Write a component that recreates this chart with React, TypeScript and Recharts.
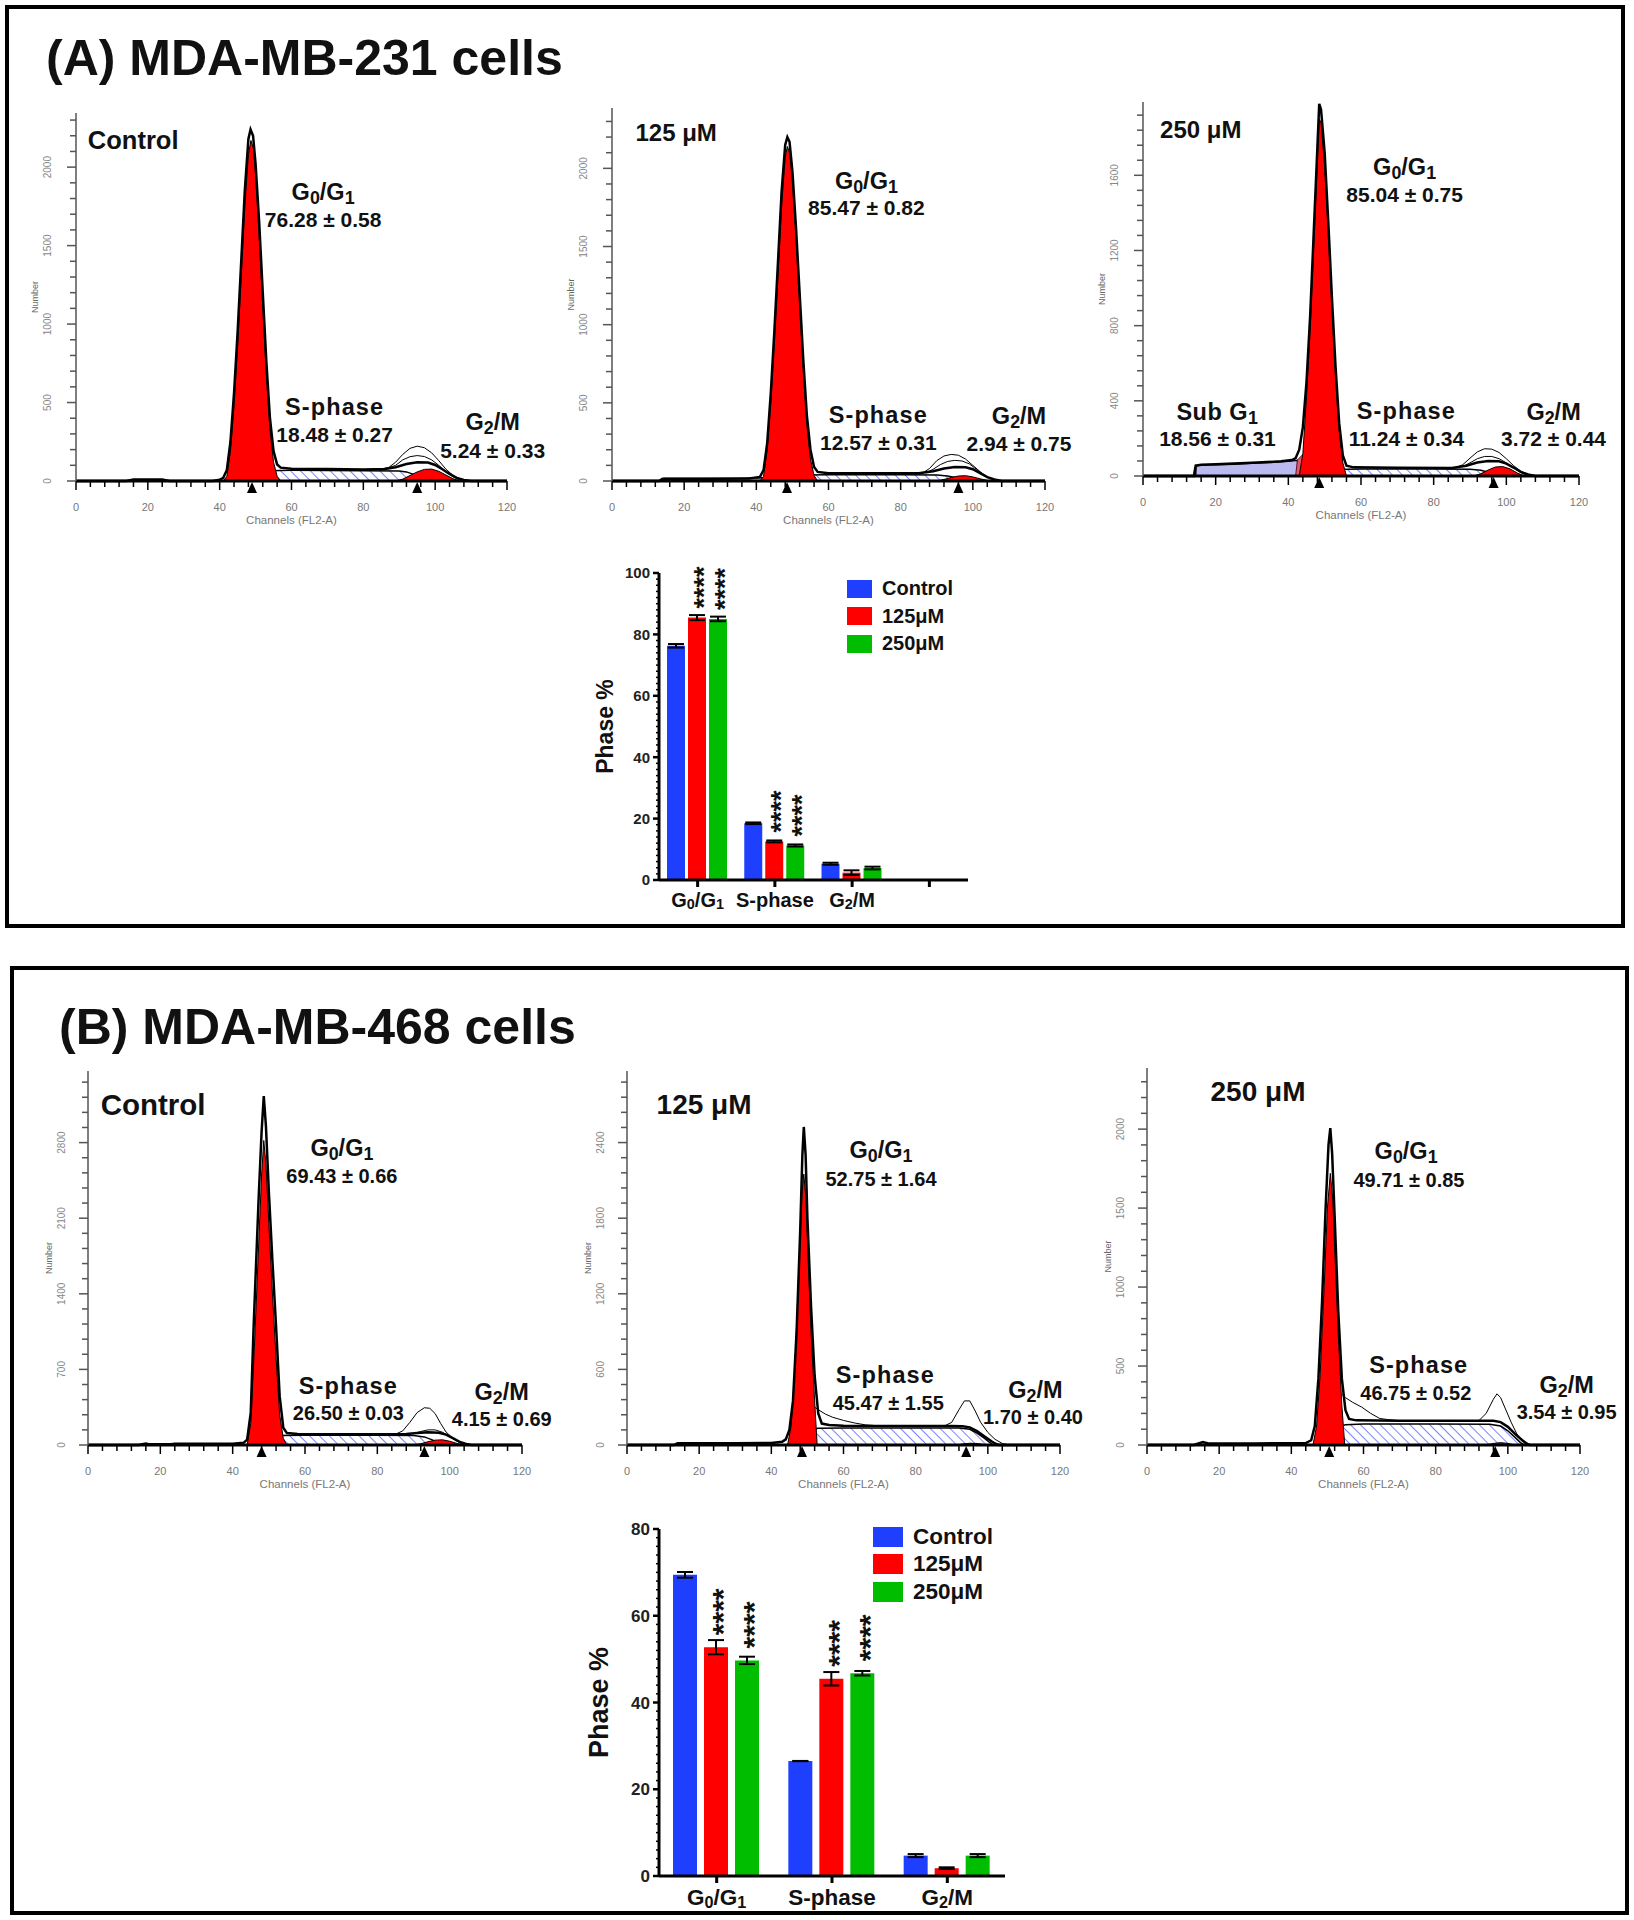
import React from "react";
import {
  ComposedChart,
  Area,
  Line,
  Scatter,
  XAxis,
  YAxis,
  ReferenceDot,
  BarChart,
  Bar,
  ErrorBar,
  LabelList,
  Legend,
} from "recharts";

type Pt = [number, number];

const FONT = "'Liberation Sans', Arial, Helvetica, sans-serif";
const BLUE = "#1f3fff";
const RED = "#ff0000";
const GREEN = "#00bd00";

// (A) MDA-MB-231 — DNA histograms as [channel, count]
const acTotal: Pt[] = [[0,0],[14,0],[16,10],[24,10],[26,0],[38,0],[40,8],[41,20],[42,70],[43,250],[44,560],[45,950],[46,1400],[47,1850],[48,2180],[48.6,2240],[49.3,2200],[50,2020],[51,1650],[52,1200],[53,760],[54,400],[55,190],[56,105],[57,85],[60,78],[70,76],[80,74],[86,76],[89,88],[92,108],[95,120],[98,118],[100,102],[102,75],[104,45],[106,20],[108,6],[110,0],[120,0]];
const acG1: Pt[] = [[41,0],[42,30],[43,190],[44,480],[45,860],[46,1300],[47,1750],[48,2080],[48.7,2170],[49.4,2120],[50,1950],[51,1560],[52,1110],[53,680],[54,330],[55,120],[56,30],[57,0]];
const acS: Pt[] = [[46,0],[48,22],[50,45],[52,60],[54,66],[60,68],[80,66],[90,64],[92,58],[94,42],[96,22],[98,8],[100,0]];
const acG2: Pt[] = [[89,0],[91,12],[93,35],[95,58],[97,74],[99,76],[101,62],[103,38],[105,14],[107,0]];
const acRawHi: Pt[] = [[84,74],[87,85],[89,120],[91,170],[93,208],[95,222],[97,212],[99,180],[101,130],[103,75],[105,35],[107,12],[109,0]];
const acRawLo: Pt[] = [[86,76],[89,100],[91,135],[93,155],[95,162],[97,156],[99,135],[101,100],[103,60],[105,25],[108,0]];
const acMarks: Pt[] = [[49,0],[95,0]];

const a1Total: Pt[] = [[0,0],[13,0],[14,14],[30,14],[38,16],[41,26],[42,70],[43,240],[44,560],[45,960],[46,1400],[47,1850],[48,2150],[48.6,2200],[49.2,2170],[50,1980],[51,1620],[52,1200],[53,780],[54,420],[55,200],[56,90],[57,58],[60,50],[70,50],[85,50],[89,62],[92,80],[95,90],[98,88],[100,75],[102,50],[104,25],[106,10],[108,0],[120,0]];
const a1G1: Pt[] = [[41,0],[42,30],[43,200],[44,500],[45,890],[46,1320],[47,1760],[48,2070],[48.6,2140],[49.2,2100],[50,1920],[51,1560],[52,1140],[53,720],[54,360],[55,140],[56,35],[57,0]];
const a1S: Pt[] = [[46,0],[48,18],[50,32],[53,38],[60,40],[80,40],[90,38],[93,32],[95,22],[97,10],[99,0]];
const a1G2: Pt[] = [[90,0],[92,10],[94,22],[96,32],[98,34],[100,26],[102,14],[104,4],[105,0]];
const a1Sub: Pt[] = [[14,0],[14.5,16],[25,16],[35,18],[43,22],[44,0]];
const a1Pink: Pt[] = [[43,0],[44.5,35],[46,48],[47.5,35],[49,0]];
const a1RawHi: Pt[] = [[86,50],[88,80],[90,130],[92,160],[94,170],[96,165],[98,140],[100,100],[102,60],[104,25],[106,8],[108,0]];
const a1RawLo: Pt[] = [[87,52],[89,75],[91,105],[93,125],[95,132],[97,128],[99,110],[101,75],[103,40],[105,15],[107,0]];
const a1Marks: Pt[] = [[48.5,0],[96,0]];

const a2Total: Pt[] = [[0,0],[14,0],[14.5,55],[16,60],[20,62],[30,70],[38,78],[41,85],[42,95],[43,140],[44,260],[45,500],[46,850],[47,1300],[48,1750],[48.5,1980],[49,1950],[50,1720],[51,1350],[52,950],[53,580],[54,280],[55,110],[56,55],[58,46],[70,44],[85,42],[89,55],[92,72],[95,80],[98,78],[100,66],[102,45],[104,22],[106,8],[108,0],[120,0]];
const a2G1: Pt[] = [[43,0],[44,120],[45,420],[46,780],[47,1230],[48,1680],[48.5,1900],[49,1880],[50,1650],[51,1290],[52,900],[53,530],[54,240],[55,70],[56,0]];
const a2Sub: Pt[] = [[14.5,0],[14.6,55],[16,58],[20,60],[25,62],[30,68],[35,72],[40,78],[42.5,84],[43,0]];
const a2Pink: Pt[] = [[42,0],[42.5,85],[44,115],[46,130],[48,115],[50,70],[52,20],[53,0]];
const a2S: Pt[] = [[47,0],[49,15],[51,28],[53,35],[60,37],[80,37],[90,36],[93,30],[95,20],[97,8],[99,0]];
const a2G2: Pt[] = [[91,0],[93,12],[95,32],[97,48],[99,50],[101,38],[103,16],[105,0]];
const a2RawHi: Pt[] = [[86,44],[88,60],[90,95],[92,128],[94,145],[96,143],[98,125],[100,92],[102,55],[104,25],[106,8],[108,0]];
const a2RawLo: Pt[] = [[88,50],[90,70],[92,92],[94,104],[96,104],[98,92],[100,70],[102,42],[104,18],[106,0]];
const a2Marks: Pt[] = [[48.5,0],[96.5,0]];

// (B) MDA-MB-468
const bcTotal: Pt[] = [[0,0],[14,0],[15,8],[16,14],[17,6],[23,6],[24,12],[40,12],[43,20],[44,50],[45,300],[45.8,1100],[46.5,1700],[47.2,2300],[48,2900],[48.6,3230],[49.2,2950],[50,2350],[51,1700],[52,1100],[53,450],[54,160],[55,110],[58,102],[70,100],[85,100],[88,102],[91,110],[94,118],[97,114],[99,96],[101,62],[103,25],[105,6],[106,0],[120,0]];
const bcG1: Pt[] = [[44,0],[45,200],[46,900],[47,1700],[48,2500],[48.6,2820],[49.2,2600],[50,2050],[51,1400],[52,800],[53,280],[54,60],[55,0]];
const bcS: Pt[] = [[47,0],[49,40],[51,75],[53,88],[60,90],[80,90],[90,88],[93,75],[95,50],[97,22],[99,5],[100,0]];
const bcG2: Pt[] = [[90,0],[92,12],[94,30],[96,45],[98,48],[100,35],[102,15],[104,0]];
const bcRawHi: Pt[] = [[85,100],[87,130],[89,210],[91,300],[93,345],[94.5,340],[96,290],[97.5,200],[99,120],[101,60],[103,25],[105,5],[106,0]];
const bcRawLo: Pt[] = [[90,105],[92,125],[94,140],[96,140],[98,118],[100,80],[102,35],[104,8],[105,0]];
const bcMarks: Pt[] = [[48,0],[93,0]];

const b1Total: Pt[] = [[0,0],[13,0],[14,14],[30,14],[40,16],[43,25],[44,45],[45,120],[46,350],[47,900],[48,1700],[48.6,2300],[49,2524],[49.5,2300],[50,1800],[51,1100],[52,550],[53,250],[54,170],[56,158],[60,152],[80,150],[90,150],[93,148],[95,140],[97,110],[99,70],[101,30],[102,12],[103,0],[120,0]];
const b1G1: Pt[] = [[44.5,0],[45.5,150],[46.5,600],[47.5,1300],[48.5,2000],[49,2150],[49.6,1950],[50.3,1400],[51,900],[52,350],[52.7,0]];
const b1S: Pt[] = [[47,0],[48.5,60],[50,105],[51.5,125],[53,133],[60,135],[80,135],[92,134],[95,125],[97,95],[99,55],[100.5,20],[101.5,0]];
const b1G2: Pt[] = [[91,0],[93,8],[95,14],[97,12],[99,4],[100,0]];
const b1Raw: Pt[] = [[52,300],[53,280],[55,245],[57,220],[60,195],[63,175],[66,160],[70,152],[88,152],[90,180],[92,280],[93.5,350],[95,350],[96.5,270],[98,180],[100,100],[102,45],[104,12],[106,0]];
const b1Marks: Pt[] = [[48.5,0],[94,0]];

const b2Total: Pt[] = [[0,0],[13,0],[14,8],[15.5,18],[17,10],[30,10],[44,12],[45.5,30],[46.5,120],[47.5,420],[48.5,900],[49.5,1500],[50.3,1900],[50.8,2006],[51.3,1850],[52,1450],[53,850],[54,420],[55,220],[56,165],[58,156],[70,154],[90,154],[96,154],[98,145],[100,115],[102,70],[104,30],[105,12],[106,0],[120,0]];
const b2G1: Pt[] = [[46,0],[47,120],[48,450],[49,950],[50,1500],[50.8,1720],[51.5,1550],[52,1250],[53,700],[54,250],[54.8,0]];
const b2S: Pt[] = [[49,0],[50.5,45],[52,90],[53.5,118],[55,128],[60,133],[80,133],[95,132],[98,120],[100,90],[102,48],[103.5,15],[104.5,0]];
const b2G2: Pt[] = [[94,0],[96,10],[98,15],[100,10],[102,0]];
const b2Raw: Pt[] = [[54,320],[55,300],[57,270],[59.5,240],[62,200],[64.5,168],[67,160],[70,154],[92,155],[94,200],[96,290],[97,324],[98,300],[99.5,220],[101,140],[102.5,70],[104,25],[106,5],[107,0]];
const b2Marks: Pt[] = [[50.5,0],[96.5,0]];

// phase distribution bar charts (% of cells, mean and SEM)
const phaseCats = ["G_0/G_1", "S-phase", "G_2/M"];
const seriesNames = ["Control", "125μM", "250μM"];
const aCtrlPct = [76.28, 18.48, 5.3];
const aCtrlSem = [0.58, 0.27, 0.33];
const a125Pct = [85.47, 12.57, 2.4];
const a125Sem = [0.82, 0.31, 0.75];
const a250Pct = [85.04, 11.24, 3.9];
const a250Sem = [0.75, 0.34, 0.44];
const aSig125 = ["****", "****", ""];
const aSig250 = ["****", "****", ""];

const bCtrlPct = [69.43, 26.5, 4.7];
const bCtrlSem = [0.66, 0.03, 0.35];
const b125Pct = [52.75, 45.47, 1.8];
const b125Sem = [1.64, 1.55, 0.2];
const b250Pct = [49.71, 46.75, 4.7];
const b250Sem = [0.85, 0.52, 0.35];
const bSig125 = ["****", "****", ""];
const bSig250 = ["****", "****", ""];

const X_TICKS = Array.from({ length: 31 }, (_, i) => i * 4);
const pts = (a: Pt[]) => a.map(([ch, n]) => ({ ch, n }));

// "G_0" -> G with subscript 0
function rich(text: string, size: number, shift = 0.17, scale = 0.76) {
  const parts = text.split(/(_.)/).filter((s) => s.length > 0);
  let down = false;
  return parts.map((part, i) => {
    if (part[0] === "_") {
      const el = (
        <tspan key={i} dy={down ? 0 : size * shift} fontSize={size * scale}>
          {part.slice(1)}
        </tspan>
      );
      down = true;
      return el;
    }
    const el = (
      <tspan key={i} dy={down ? -size * shift : 0}>
        {part}
      </tspan>
    );
    down = false;
    return el;
  });
}

type Note = { ch: number; n: number; text: string; size: number; anchor?: "start" | "middle"; ls?: number };

type Hist = {
  id: string;
  left: number;
  right: number;
  top: number;
  bottom: number;
  max: number;
  step: number;
  labelOff: number;
  total: Pt[];
  g1: Pt[];
  s: Pt[];
  g2: Pt[];
  raw: Pt[][];
  sub?: Pt[];
  pink?: Pt[];
  marks: Pt[];
  notes: Note[];
};

const HISTS: Hist[] = [
  {
    id: "ac", left: 76, right: 507, top: 113, bottom: 481, max: 2345, step: 500, labelOff: 29,
    total: acTotal, g1: acG1, s: acS, g2: acG2, raw: [acRawHi, acRawLo], marks: acMarks,
    notes: [
      { ch: 3.3, n: 2116, text: "Control", size: 25.5, anchor: "start" },
      { ch: 68.8, n: 1791, text: "G_0/G_1", size: 23.5 },
      { ch: 68.8, n: 1619, text: "76.28 ± 0.58", size: 21 },
      { ch: 72, n: 421, text: "S-phase", size: 23.5, ls: 1.1 },
      { ch: 72, n: 249, text: "18.48 ± 0.27", size: 21 },
      { ch: 116, n: 325, text: "G_2/M", size: 23.5 },
      { ch: 116, n: 147, text: "5.24 ± 0.33", size: 21 },
    ],
  },
  {
    id: "a1", left: 612, right: 1045, top: 108, bottom: 481, max: 2386, step: 500, labelOff: 29,
    total: a1Total, g1: a1G1, s: a1S, g2: a1G2, raw: [a1RawHi, a1RawLo], sub: a1Sub, pink: a1Pink, marks: a1Marks,
    notes: [
      { ch: 6.5, n: 2175, text: "125 μM", size: 24, anchor: "start" },
      { ch: 70.5, n: 1870, text: "G_0/G_1", size: 23.5 },
      { ch: 70.5, n: 1700, text: "85.47 ± 0.82", size: 21 },
      { ch: 73.8, n: 371, text: "S-phase", size: 23.5, ls: 1.1 },
      { ch: 73.8, n: 198, text: "12.57 ± 0.31", size: 21 },
      { ch: 112.8, n: 362, text: "G_2/M", size: 23.5 },
      { ch: 112.8, n: 192, text: "2.94 ± 0.75", size: 21 },
    ],
  },
  {
    id: "a2", left: 1143, right: 1579, top: 102, bottom: 476, max: 1990, step: 400, labelOff: 29,
    total: a2Total, g1: a2G1, s: a2S, g2: a2G2, raw: [a2RawHi, a2RawLo], sub: a2Sub, pink: a2Pink, marks: a2Marks,
    notes: [
      { ch: 4.7, n: 1800, text: "250 μM", size: 24, anchor: "start" },
      { ch: 72, n: 1600, text: "G_0/G_1", size: 23.5 },
      { ch: 72, n: 1457, text: "85.04 ± 0.75", size: 21 },
      { ch: 20.5, n: 300, text: "Sub G_1", size: 23.5, ls: 0.5 },
      { ch: 20.5, n: 158, text: "18.56 ± 0.31", size: 21 },
      { ch: 72.5, n: 305, text: "S-phase", size: 23.5, ls: 1.1 },
      { ch: 72.5, n: 160, text: "11.24 ± 0.34", size: 21 },
      { ch: 113, n: 300, text: "G_2/M", size: 23.5 },
      { ch: 113, n: 158, text: "3.72 ± 0.44", size: 21 },
    ],
  },
  {
    id: "bc", left: 88, right: 522, top: 1071, bottom: 1445, max: 3463, step: 700, labelOff: 27,
    total: bcTotal, g1: bcG1, s: bcS, g2: bcG2, raw: [bcRawHi, bcRawLo], marks: bcMarks,
    notes: [
      { ch: 3.5, n: 3060, text: "Control", size: 29.5, anchor: "start" },
      { ch: 70.2, n: 2676, text: "G_0/G_1", size: 23.5 },
      { ch: 70.2, n: 2426, text: "69.43 ± 0.66", size: 20 },
      { ch: 72, n: 475, text: "S-phase", size: 23.5, ls: 1.1 },
      { ch: 72, n: 228, text: "26.50 ± 0.03", size: 20 },
      { ch: 114.4, n: 420, text: "G_2/M", size: 23.5 },
      { ch: 114.4, n: 178, text: "4.15 ± 0.69", size: 20 },
    ],
  },
  {
    id: "b1", left: 627, right: 1060, top: 1071, bottom: 1445, max: 2968, step: 600, labelOff: 27,
    total: b1Total, g1: b1G1, s: b1S, g2: b1G2, raw: [b1Raw], marks: b1Marks,
    notes: [
      { ch: 8.2, n: 2627, text: "125 μM", size: 28, anchor: "start" },
      { ch: 70.4, n: 2275, text: "G_0/G_1", size: 23.5 },
      { ch: 70.4, n: 2056, text: "52.75 ± 1.64", size: 20 },
      { ch: 71.6, n: 492, text: "S-phase", size: 23.5, ls: 1.1 },
      { ch: 72.4, n: 280, text: "45.47 ± 1.55", size: 20 },
      { ch: 113.2, n: 372, text: "G_2/M", size: 23.5 },
      { ch: 112.5, n: 165, text: "1.70 ± 0.40", size: 20 },
    ],
  },
  {
    id: "b2", left: 1147, right: 1580, top: 1068, bottom: 1445, max: 2387, step: 500, labelOff: 27,
    total: b2Total, g1: b2G1, s: b2S, g2: b2G2, raw: [b2Raw], marks: b2Marks,
    notes: [
      { ch: 17.6, n: 2176, text: "250 μM", size: 28, anchor: "start" },
      { ch: 71.8, n: 1812, text: "G_0/G_1", size: 23.5 },
      { ch: 72.6, n: 1633, text: "49.71 ± 0.85", size: 20 },
      { ch: 75.3, n: 455, text: "S-phase", size: 23.5, ls: 1.1 },
      { ch: 74.5, n: 283, text: "46.75 ± 0.52", size: 20 },
      { ch: 116.3, n: 330, text: "G_2/M", size: 23.5 },
      { ch: 116.3, n: 165, text: "3.54 ± 0.95", size: 20 },
    ],
  },
];

const YW = 50;
const XH = 50;

const histXTick = (p: any) => {
  const v = p.payload.value;
  const major = v % 20 === 0;
  return (
    <g>
      <line x1={p.x} x2={p.x} y1={p.y} y2={p.y + (major ? 9 : 6)} stroke="#000" strokeWidth={1.5} />
      {major && (
        <text x={p.x} y={p.y + 30} textAnchor="middle" fontSize={11} fill="#777" fontFamily={FONT}>
          {v}
        </text>
      )}
    </g>
  );
};

const histYTick = (step: number, off: number) => (p: any) => {
  const v = p.payload.value;
  const major = v % step === 0;
  return (
    <g>
      <line x1={p.x} x2={p.x - (major ? 9 : 6)} y1={p.y} y2={p.y} stroke="#555" strokeWidth={1.5} />
      {major && (
        <text
          transform={`translate(${p.x - off},${p.y}) rotate(-90)`}
          textAnchor="middle"
          dominantBaseline="central"
          fontSize={10}
          fill="#888"
          fontFamily={FONT}
        >
          {v}
        </text>
      )}
    </g>
  );
};

const markShape = (p: any) => <path d={`M${p.cx},${p.cy + 1} l5,11 l-10,0 z`} fill="#000" />;

function Histogram({ h }: { h: Hist }) {
  const pw = h.right - h.left;
  const ph = h.bottom - h.top;
  const yTicks: number[] = [];
  for (let v = 0; v <= h.max; v += h.step / 5) yTicks.push(v);
  const hatch = `hatch-${h.id}`;

  return (
    <div style={{ position: "absolute", left: h.left - YW, top: h.top - 5 }}>
      <ComposedChart width={YW + pw + 5} height={ph + 5 + XH} margin={{ top: 5, right: 5, bottom: 0, left: 0 }}>
        <defs>
          <pattern id={hatch} width={7} height={7} patternUnits="userSpaceOnUse" patternTransform="rotate(-45)">
            <rect width={7} height={7} fill="#fff" />
            <line x1={0} y1={0} x2={0} y2={7} stroke="#3040ff" strokeWidth={1.3} />
          </pattern>
        </defs>
        <XAxis
          type="number"
          dataKey="ch"
          domain={[0, 120]}
          ticks={X_TICKS}
          interval={0}
          height={XH}
          tickSize={0}
          tickMargin={0}
          tickLine={false}
          axisLine={{ stroke: "#000", strokeWidth: 3 }}
          tick={histXTick}
          label={(p: any) => (
            <text
              x={p.viewBox.x + p.viewBox.width / 2}
              y={p.viewBox.y + 43}
              textAnchor="middle"
              fontSize={11.5}
              fill="#777"
              fontFamily={FONT}
            >
              Channels (FL2-A)
            </text>
          )}
        />
        <YAxis
          type="number"
          dataKey="n"
          domain={[0, h.max]}
          ticks={yTicks}
          interval={0}
          width={YW}
          tickSize={0}
          tickMargin={0}
          tickLine={false}
          axisLine={{ stroke: "#555", strokeWidth: 1.5 }}
          tick={histYTick(h.step, h.labelOff)}
          label={(p: any) => (
            <text
              transform={`translate(${p.viewBox.x + p.viewBox.width - h.labelOff - 12},${p.viewBox.y + p.viewBox.height / 2}) rotate(-90)`}
              textAnchor="middle"
              dominantBaseline="central"
              fontSize={9}
              fill="#666"
              fontFamily={FONT}
            >
              Number
            </text>
          )}
        />
        {h.sub && (
          <Area data={pts(h.sub)} dataKey="n" fill="#babaf0" fillOpacity={1} stroke="#000" strokeWidth={1.5} isAnimationActive={false} />
        )}
        <Area data={pts(h.s)} dataKey="n" fill={`url(#${hatch})`} fillOpacity={1} stroke="#000" strokeWidth={1.5} isAnimationActive={false} />
        <Area data={pts(h.g2)} dataKey="n" fill={RED} fillOpacity={1} stroke="#000" strokeWidth={1} isAnimationActive={false} />
        {h.pink && (
          <Area data={pts(h.pink)} dataKey="n" fill="#e0566e" fillOpacity={1} stroke="#6a1020" strokeWidth={1} isAnimationActive={false} />
        )}
        <Area data={pts(h.g1)} dataKey="n" fill={RED} fillOpacity={1} stroke="#000" strokeWidth={1} isAnimationActive={false} />
        {h.raw.map((r, i) => (
          <Line key={i} data={pts(r)} dataKey="n" stroke="#000" strokeWidth={1} dot={false} isAnimationActive={false} />
        ))}
        <Line data={pts(h.total)} dataKey="n" stroke="#000" strokeWidth={2.5} dot={false} isAnimationActive={false} />
        <Scatter data={pts(h.marks)} shape={markShape} isAnimationActive={false} />
        {h.notes.map((a, i) => (
          <ReferenceDot
            key={`note-${i}`}
            x={a.ch}
            y={a.n}
            r={0}
            ifOverflow="visible"
            shape={(p: any) => (
              <text
                x={p.cx}
                y={p.cy}
                textAnchor={a.anchor ?? "middle"}
                fontFamily={FONT}
                fontWeight="bold"
                fontSize={a.size}
                letterSpacing={a.ls ?? 0}
                fill="#111"
              >
                {rich(a.text, a.size)}
              </text>
            )}
          />
        ))}
      </ComposedChart>
    </div>
  );
}

type BarSpec = {
  left: number;
  top: number;
  right: number;
  bottom: number;
  max: number;
  rows: any[];
  tickFs: number;
  catFs: number;
  catDy: number;
  titleFs: number;
  titleOff: number;
  starFs: number;
  starGap: number;
  catGap: number;
  barGap: number;
  legend: { left: number; top: number; w: number; h: number; fs: number; row: number };
};

const buildRows = (
  cats: string[],
  ctrl: number[], ctrlSem: number[],
  t125: number[], t125Sem: number[],
  t250: number[], t250Sem: number[],
  s125: string[], s250: string[],
) =>
  cats.map((cat, i) => ({
    cat,
    ctrl: ctrl[i] ?? null,
    ctrlErr: ctrlSem[i] ?? null,
    t125: t125[i] ?? null,
    t125Err: t125Sem[i] ?? null,
    t250: t250[i] ?? null,
    t250Err: t250Sem[i] ?? null,
    s125: s125[i] ?? "",
    s250: s250[i] ?? "",
  }));

const BAR_A: BarSpec = {
  left: 659, top: 573, right: 968, bottom: 880, max: 100,
  rows: buildRows([...phaseCats, ""], aCtrlPct, aCtrlSem, a125Pct, a125Sem, a250Pct, a250Sem, aSig125, aSig250),
  tickFs: 15, catFs: 20, catDy: 27, titleFs: 23, titleOff: 54, starFs: 27, starGap: 9,
  catGap: 8, barGap: 3,
  legend: { left: 268, top: 42, w: 25, h: 18, fs: 20, row: 27.5 },
};

const BAR_B: BarSpec = {
  left: 659, top: 1529, right: 1005, bottom: 1876, max: 80,
  rows: buildRows(phaseCats, bCtrlPct, bCtrlSem, b125Pct, b125Sem, b250Pct, b250Sem, bSig125, bSig250),
  tickFs: 17, catFs: 22.5, catDy: 29, titleFs: 27, titleOff: 60, starFs: 30, starGap: 12,
  catGap: 14, barGap: 7,
  legend: { left: 294, top: 34, w: 30, h: 20, fs: 22.5, row: 27.5 },
};

function PhaseBars({ s }: { s: BarSpec }) {
  const YB = 80;
  const TOPM = 40;
  const XB = 45;
  const yTicks: number[] = [];
  for (let v = 0; v <= s.max; v += 2) yTicks.push(v);

  const stars = (p: any) => {
    if (!p.value) return null;
    const vb = p.viewBox ?? p;
    const cx = vb.x + vb.width / 2;
    const yb = vb.y - s.starGap;
    return (
      <text
        transform={`translate(${cx},${yb}) rotate(-90)`}
        x={0}
        y={s.starFs * 0.58}
        fontSize={s.starFs}
        fontWeight="bold"
        fontFamily={FONT}
        fill="#111"
      >
        {p.value}
      </text>
    );
  };

  return (
    <div style={{ position: "absolute", left: s.left - YB, top: s.top - TOPM }}>
      <BarChart
        width={YB + (s.right - s.left) + 10}
        height={TOPM + (s.bottom - s.top) + XB}
        data={s.rows}
        margin={{ top: TOPM, right: 10, bottom: 0, left: 0 }}
        barCategoryGap={s.catGap}
        barGap={s.barGap}
      >
        <XAxis
          dataKey="cat"
          height={XB}
          interval={0}
          tickSize={0}
          tickMargin={0}
          tickLine={false}
          axisLine={{ stroke: "#000", strokeWidth: 3 }}
          tick={(p: any) => (
            <g>
              <line x1={p.x} x2={p.x} y1={p.y} y2={p.y + 7} stroke="#000" strokeWidth={3} />
              {p.payload.value && (
                <text
                  x={p.x}
                  y={p.y + s.catDy}
                  textAnchor="middle"
                  fontSize={s.catFs}
                  fontWeight="bold"
                  fontFamily={FONT}
                  fill="#111"
                >
                  {rich(p.payload.value, s.catFs, 0.12, 0.72)}
                </text>
              )}
            </g>
          )}
        />
        <YAxis
          type="number"
          domain={[0, s.max]}
          ticks={yTicks}
          interval={0}
          width={YB}
          tickSize={0}
          tickMargin={0}
          tickLine={false}
          axisLine={{ stroke: "#000", strokeWidth: 3 }}
          tick={(p: any) => {
            const v = p.payload.value;
            const major = v % 20 === 0;
            return (
              <g>
                <line x1={p.x} x2={p.x - (major ? 6 : 3)} y1={p.y} y2={p.y} stroke="#000" strokeWidth={major ? 2.5 : 1.5} />
                {major && (
                  <text
                    x={p.x - 9}
                    y={p.y}
                    dy="0.36em"
                    textAnchor="end"
                    fontSize={s.tickFs}
                    fontWeight="bold"
                    fontFamily={FONT}
                    fill="#222"
                  >
                    {v}
                  </text>
                )}
              </g>
            );
          }}
          label={(p: any) => (
            <text
              transform={`translate(${p.viewBox.x + p.viewBox.width - s.titleOff},${p.viewBox.y + p.viewBox.height / 2}) rotate(-90)`}
              textAnchor="middle"
              dominantBaseline="central"
              fontSize={s.titleFs}
              fontWeight="bold"
              fontFamily={FONT}
              fill="#111"
            >
              Phase %
            </text>
          )}
        />
        <Legend
          layout="vertical"
          align="center"
          verticalAlign="middle"
          wrapperStyle={{ left: s.legend.left, top: s.legend.top, width: "auto" }}
          content={(p: any) => {
            const items = [...(p.payload ?? [])].sort(
              (a: any, b: any) => seriesNames.indexOf(a.value) - seriesNames.indexOf(b.value),
            );
            return (
              <div style={{ fontFamily: FONT }}>
                {items.map((e: any) => (
                  <div key={e.value} style={{ display: "flex", alignItems: "center", height: s.legend.row }}>
                    <span style={{ display: "inline-block", width: s.legend.w, height: s.legend.h, background: e.color }} />
                    <span style={{ marginLeft: 10, fontSize: s.legend.fs, fontWeight: "bold", color: "#111" }}>{e.value}</span>
                  </div>
                ))}
              </div>
            );
          }}
        />
        <Bar dataKey="ctrl" name={seriesNames[0]} fill={BLUE} isAnimationActive={false}>
          <ErrorBar dataKey="ctrlErr" width={8} stroke="#000" strokeWidth={2} />
        </Bar>
        <Bar dataKey="t125" name={seriesNames[1]} fill={RED} isAnimationActive={false}>
          <ErrorBar dataKey="t125Err" width={8} stroke="#000" strokeWidth={2} />
          <LabelList dataKey="s125" content={stars} />
        </Bar>
        <Bar dataKey="t250" name={seriesNames[2]} fill={GREEN} isAnimationActive={false}>
          <ErrorBar dataKey="t250Err" width={8} stroke="#000" strokeWidth={2} />
          <LabelList dataKey="s250" content={stars} />
        </Bar>
      </BarChart>
    </div>
  );
}

const titleStyle = (left: number, top: number): React.CSSProperties => ({
  position: "absolute",
  left,
  top,
  fontSize: 50,
  fontWeight: "bold",
  lineHeight: 1,
  whiteSpace: "nowrap",
  color: "#111",
  fontFamily: FONT,
});

export default function App() {
  return (
    <div style={{ position: "relative", width: 1634, height: 1920, background: "#fff", fontFamily: FONT, overflow: "hidden" }}>
      <style>{`body{margin:0;background:#fff}.recharts-surface{overflow:visible}`}</style>
      <div style={{ position: "absolute", left: 5, top: 5, width: 1620, height: 923, border: "4px solid #000", boxSizing: "border-box" }} />
      <div style={{ position: "absolute", left: 10, top: 966, width: 1619, height: 949, border: "4px solid #000", boxSizing: "border-box" }} />
      <div style={titleStyle(46, 33)}>(A) MDA-MB-231 cells</div>
      <div style={titleStyle(59, 1002)}>(B) MDA-MB-468 cells</div>
      {HISTS.map((h) => (
        <Histogram key={h.id} h={h} />
      ))}
      <PhaseBars s={BAR_A} />
      <PhaseBars s={BAR_B} />
    </div>
  );
}
